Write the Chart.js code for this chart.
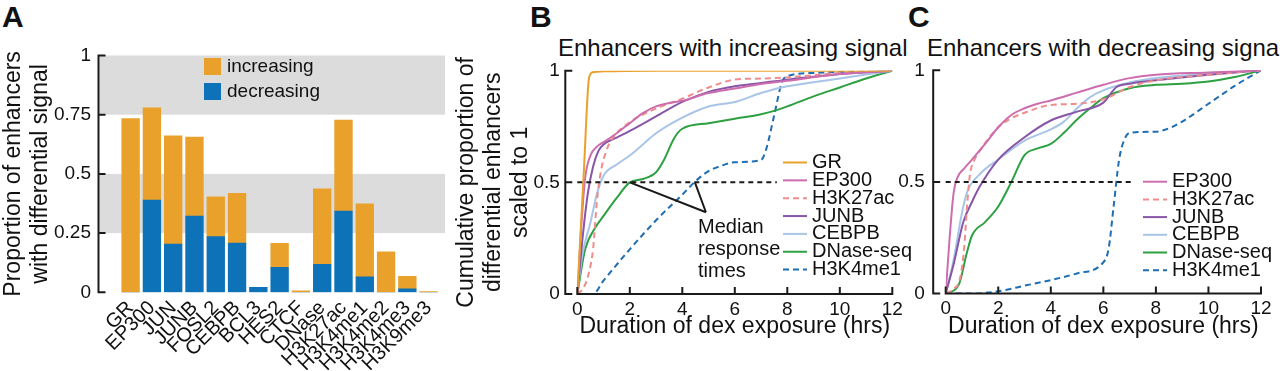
<!DOCTYPE html>
<html>
<head>
<meta charset="utf-8">
<script src="https://cdn.jsdelivr.net/npm/chart.js@4.4.0/dist/chart.umd.min.js"></script>
<style>
  body { margin: 0; background: #fff; width: 1280px; height: 371px; overflow: hidden; position: relative;
         font-family: "Liberation Sans", Arial, sans-serif; color: #111; }
  canvas { position: absolute; top: 0; }
  .lab { position: absolute; font-weight: bold; font-size: 30px; line-height: 30px; }
  .ttl { position: absolute; font-size: 24px; line-height: 24px; white-space: nowrap; }
</style>
</head>
<body>
<div class="lab" style="left:2px;top:2px">A</div>
<div class="lab" style="left:530px;top:2px">B</div>
<div class="lab" style="left:908px;top:2px">C</div>
<div class="ttl" style="left:558px;top:36px">Enhancers with increasing signal</div>
<div class="ttl" style="left:927px;top:36px">Enhancers with decreasing signal</div>
<canvas id="barA" width="455" height="371" style="left:0"></canvas>
<canvas id="incB" width="470" height="371" style="left:450px"></canvas>
<canvas id="decC" width="395" height="371" style="left:885px"></canvas>
<script>
// panel A: proportion of enhancers with differential signal
const categories = ["GR", "EP300", "JUN", "JUNB", "FOSL2", "CEBPB", "BCL3", "HES2", "CTCF",
                    "DNase", "H3K27ac", "H3K4me1", "H3K4me2", "H3K4me3", "H3K9me3"];
const decreasing = [0, 0.389, 0.204, 0.322, 0.235, 0.208, 0.021, 0.105, 0, 0.118, 0.343, 0.065, 0, 0.015, 0];
const increasing = [0.734, 0.390, 0.457, 0.333, 0.168, 0.210, 0, 0.102, 0.006, 0.319, 0.384, 0.309, 0.171, 0.052, 0.003];
const bandsA = [[0.25, 0.5], [0.75, 1]];

// panels B and C: cumulative proportion, [hours, proportion]
const incGR = [[0,0],[0.25,0.55],[0.45,0.97],[0.6,0.993],[1,0.997],[3,1],[12,1]];
const incEP300 = [[0,0],[0.15,0.3],[0.3,0.52],[0.5,0.62],[0.75,0.66],[1,0.68],[1.5,0.72],[2,0.765],[2.5,0.81],[3,0.84],[3.5,0.855],[4,0.865],[5,0.9],[6,0.92],[7,0.94],[8,0.955],[10,0.985],[12,1]];
const incH3K27ac = [[0,0],[0.25,0.03],[0.45,0.1],[0.6,0.2],[0.75,0.42],[0.9,0.55],[1.1,0.64],[1.3,0.69],[2,0.77],[3,0.83],[4,0.875],[5,0.925],[6,0.96],[7,0.965],[8,0.97],[10,0.99],[12,1]];
const incJUNB = [[0,0],[0.2,0.25],[0.4,0.45],[0.6,0.57],[0.8,0.64],[1,0.67],[1.5,0.7],[2,0.73],[3,0.795],[4,0.86],[5,0.905],[6,0.93],[7,0.945],[8,0.96],[10,0.985],[12,1]];
const incCEBPB = [[0,0],[0.2,0.18],[0.5,0.32],[0.75,0.45],[1,0.53],[1.5,0.58],[2,0.62],[2.5,0.67],[3,0.72],[4,0.79],[5,0.84],[6,0.86],[7,0.9],[8,0.93],[10,0.965],[12,1]];
const incDNase = [[0,0],[0.3,0.2],[0.7,0.3],[1,0.35],[1.5,0.43],[2,0.5],[2.5,0.515],[3,0.545],[3.3,0.6],[3.7,0.7],[4,0.74],[5,0.765],[6,0.785],[7,0.805],[7.5,0.82],[8,0.84],[9,0.885],[10,0.925],[11,0.965],[12,1]];
const incH3K4me1 = [[0,0],[0.6,0],[1,0.06],[2,0.2],[3,0.33],[4,0.445],[4.5,0.505],[5,0.55],[5.5,0.575],[6,0.59],[7,0.6],[7.2,0.65],[7.5,0.8],[7.8,0.95],[8,0.975],[9,0.99],[12,1]];

const decEP300 = [[0,0],[0.15,0.25],[0.3,0.45],[0.45,0.52],[0.7,0.56],[1,0.6],[1.5,0.67],[2,0.745],[2.5,0.8],[3,0.83],[3.5,0.85],[4,0.865],[5,0.9],[6,0.935],[7,0.965],[8,0.98],[10,0.99],[12,1]];
const decH3K27ac = [[0,0],[0.3,0.02],[0.55,0.07],[0.7,0.2],[0.8,0.37],[0.92,0.53],[1.1,0.6],[1.3,0.64],[2,0.745],[2.5,0.785],[3,0.81],[4,0.845],[5,0.85],[6,0.87],[7,0.925],[8,0.955],[10,0.98],[12,1]];
const decJUNB = [[0,0],[0.3,0.13],[0.67,0.32],[1,0.41],[1.3,0.48],[2,0.6],[3,0.7],[4,0.775],[5,0.815],[6,0.855],[6.5,0.925],[7,0.94],[8,0.955],[10,0.98],[12,1]];
const decCEBPB = [[0,0],[0.3,0.15],[0.6,0.35],[0.8,0.45],[1.3,0.535],[2,0.6],[3,0.685],[4,0.735],[4.5,0.77],[5,0.83],[5.5,0.88],[6,0.91],[7,0.945],[8,0.965],[10,0.985],[12,1]];
const decDNase = [[0,0],[0.5,0.04],[0.8,0.18],[1,0.26],[1.5,0.32],[2,0.39],[2.5,0.5],[3,0.62],[3.5,0.65],[4,0.67],[4.5,0.72],[5,0.78],[5.5,0.83],[6,0.875],[7,0.92],[8,0.935],[9,0.94],[10,0.95],[11,0.97],[12,1]];
const decH3K4me1 = [[0,0],[1,0],[2,0.01],[3,0.035],[4,0.06],[5,0.09],[6,0.14],[6.2,0.2],[6.4,0.4],[6.6,0.6],[6.8,0.69],[7,0.72],[8,0.725],[8.5,0.74],[9,0.77],[10,0.85],[11,0.93],[12,1]];

const medianTimes = [2.0, 4.48];   // marked on the DNase-seq and H3K4me1 curves
const medianNote = ["Median", "response", "times"];

const FONT = '"Liberation Sans", Arial, sans-serif';
Chart.defaults.font.family = FONT;
Chart.defaults.color = "#111";

const ORANGE = "#e9a12b", BLUE = "#0e72b8";
const colors = { GR: ORANGE, EP300: "#cd6dae", H3K27ac: "#f08c8c", JUNB: "#8756a6",
                 CEBPB: "#a8c4e6", DNase: "#2da042", H3K4me1: "#1e6eb4" };

const plainTick = v => String(v);

// axes, bands, legends and notes drawn around the plots
const decor = {
  id: "decor",
  beforeDatasetsDraw(chart, args, o) {
    if (!o.bands) return;
    const { ctx, chartArea: a, scales: { y } } = chart;
    ctx.save();
    ctx.fillStyle = "#dcdcdc";
    o.bands.forEach(([b0, b1]) => {
      const t = y.getPixelForValue(b1), b = y.getPixelForValue(b0);
      ctx.fillRect(a.left + 1, t, a.right - a.left - 1, b - t);
    });
    ctx.restore();
  },
  afterDatasetsDraw(chart, args, o) {
    const { ctx, chartArea: a, scales: { x, y } } = chart;
    ctx.save();
    ctx.strokeStyle = "#1a1a1a";
    ctx.lineWidth = 2;
    ctx.lineCap = "square";
    // y axis with inward ticks
    const ax = a.left - o.yGap;
    ctx.beginPath();
    ctx.moveTo(ax, y.getPixelForValue(1));
    ctx.lineTo(ax, y.getPixelForValue(0));
    y.ticks.forEach(t => {
      const py = y.getPixelForValue(t.value);
      ctx.moveTo(ax, py);
      ctx.lineTo(ax + 6, py);
    });
    ctx.stroke();
    if (o.xAxis) {
      const py = y.getPixelForValue(0);
      ctx.beginPath();
      ctx.moveTo(x.getPixelForValue(0), py);
      ctx.lineTo(x.getPixelForValue(12), py);
      x.ticks.forEach(t => {
        const px = x.getPixelForValue(t.value);
        ctx.moveTo(px, py);
        ctx.lineTo(px, py - 6);
      });
      ctx.stroke();
    }
    ctx.lineCap = "butt";
    if (o.refEnd) {
      const py = y.getPixelForValue(0.5);
      ctx.setLineDash([5, 4]);
      ctx.beginPath();
      ctx.moveTo(x.getPixelForValue(0), py);
      ctx.lineTo(x.getPixelForValue(o.refEnd), py);
      ctx.stroke();
      ctx.setLineDash([]);
    }
    if (o.median) {
      const [tx, ty] = o.median.apex;
      ctx.beginPath();
      medianTimes.forEach(m => {
        ctx.moveTo(x.getPixelForValue(m), y.getPixelForValue(0.5));
        ctx.lineTo(x.getPixelForValue(tx), y.getPixelForValue(ty));
      });
      ctx.stroke();
      ctx.fillStyle = "#111";
      ctx.font = "20px " + FONT;
      ctx.textBaseline = "middle";
      const lx = x.getPixelForValue(o.median.textX), ly = y.getPixelForValue(o.median.textY);
      medianNote.forEach((s, i) => ctx.fillText(s, lx, ly + i * 22));
    }
    if (o.legend) {
      const L = o.legend;
      ctx.font = (L.size || 20) + "px " + FONT;
      ctx.textBaseline = "middle";
      chart.data.datasets.forEach((d, i) => {
        const yy = L.y + i * L.gap;
        if (L.boxes) {
          ctx.fillStyle = d.backgroundColor;
          ctx.fillRect(L.x, yy - 8.5, 17, 17);
        } else {
          ctx.strokeStyle = d.borderColor;
          ctx.setLineDash(d.borderDash || []);
          ctx.beginPath();
          ctx.moveTo(L.x, yy);
          ctx.lineTo(L.x + 24, yy);
          ctx.stroke();
          ctx.setLineDash([]);
        }
        ctx.fillStyle = "#111";
        ctx.fillText(d.label, L.x + L.textDx, yy);
      });
    }
    ctx.restore();
  }
};

// ---- panel A ----
new Chart(document.getElementById("barA"), {
  type: "bar",
  data: {
    datasets: [
      { label: "increasing", data: categories.map((c, i) => ({ x: i, y: increasing[i] })),
        backgroundColor: ORANGE, barThickness: 17.7, order: 2 },
      { label: "decreasing", data: categories.map((c, i) => ({ x: i, y: decreasing[i] })),
        backgroundColor: BLUE, barThickness: 17.7, order: 1 }
    ]
  },
  options: {
    responsive: false, animation: false, events: [],
    layout: { padding: { top: 55.5, right: 10, left: 0, bottom: 0 } },
    plugins: {
      legend: { display: false }, tooltip: { enabled: false },
      decor: { bands: bandsA, yGap: 0, legend: { boxes: true, x: 204, y: 66.5, gap: 25, textDx: 23, size: 19 } }
    },
    scales: {
      x: {
        type: "linear", stacked: true, min: -1, max: 14.26,
        afterFit: s => { s.height = 78.7; },
        grid: { display: false, drawTicks: false }, border: { display: false },
        ticks: { stepSize: 1, includeBounds: false, autoSkip: false, minRotation: 45, maxRotation: 45,
                 padding: 4, font: { size: 20 },
                 callback: v => categories[v] !== undefined ? categories[v] : "" }
      },
      y: {
        stacked: true, min: 0, max: 1,
        afterFit: s => { s.width = 98.5; },
        grid: { display: false, drawTicks: false }, border: { display: false },
        ticks: { stepSize: 0.25, padding: 7.5, font: { size: 19 }, callback: plainTick },
        title: { display: true, text: ["Proportion of enhancers", "with differential signal"],
                 font: { size: 23, lineHeight: 1.17 }, padding: { top: 0.5 }, color: "#111" }
      }
    }
  },
  plugins: [decor]
});

// ---- panels B and C ----
function series(name, pts, dash) {
  return { label: name, data: pts.map(([x, y]) => ({ x, y })),
           borderColor: colors[name === "DNase-seq" ? "DNase" : name], borderDash: dash ? [6, 4] : [],
           borderWidth: 2, pointRadius: 0, fill: false, cubicInterpolationMode: "monotone" };
}

function cumulative(id, datasets, cfg) {
  new Chart(document.getElementById(id), {
    type: "line",
    data: { datasets },
    options: {
      responsive: false, animation: false, events: [],
      layout: { padding: { top: cfg.top, right: cfg.right, left: 0, bottom: 0 } },
      plugins: { legend: { display: false }, tooltip: { enabled: false }, decor: cfg.decor },
      scales: {
        x: {
          type: "linear", min: 0, max: 12,
          afterFit: s => { s.height = cfg.xh; },
          grid: { display: false, drawTicks: false }, border: { display: false },
          ticks: { stepSize: 2, padding: 4, maxRotation: 0, font: { size: 19 } },
          title: { display: true, text: "Duration of dex exposure (hrs)", font: { size: 23 },
                   padding: { bottom: 31 }, color: "#111" }
        },
        y: {
          min: 0, max: 1,
          afterFit: s => { s.width = cfg.yw; },
          grid: { display: false, drawTicks: false }, border: { display: false },
          ticks: { stepSize: 0.5, padding: cfg.ypad, font: { size: 19 }, callback: plainTick },
          title: cfg.ytitle
        }
      }
    },
    plugins: [decor]
  });
}

cumulative("incB", [
  series("GR", incGR), series("EP300", incEP300), series("H3K27ac", incH3K27ac, true),
  series("JUNB", incJUNB), series("CEBPB", incCEBPB), series("DNase-seq", incDNase),
  series("H3K4me1", incH3K4me1, true)
], {
  top: 70.7, right: 27.7, xh: 77, yw: 127.3, ypad: 17.5,
  ytitle: { display: true, text: ["Cumulative proportion of", "differential enhancers", "scaled to 1"],
            font: { size: 23, lineHeight: 1.17 }, padding: { top: 3.5 }, color: "#111" },
  decor: { yGap: 12, xAxis: true, refEnd: 7.6,
           median: { apex: [4.9, 0.366], textX: 4.6, textY: 0.296 },
           legend: { x: 333, y: 162.5, gap: 17.85, textDx: 29 } }
});

cumulative("decC", [
  series("EP300", decEP300), series("H3K27ac", decH3K27ac, true), series("JUNB", decJUNB),
  series("CEBPB", decCEBPB), series("DNase-seq", decDNase), series("H3K4me1", decH3K4me1, true)
], {
  top: 70.3, right: 19, xh: 77.5, yw: 60.7, ypad: 21,
  ytitle: { display: false },
  decor: { yGap: 12.5, xAxis: true, refEnd: 7.1,
           legend: { x: 258, y: 181.7, gap: 17.7, textDx: 29 } }
});
</script>
</body>
</html>
